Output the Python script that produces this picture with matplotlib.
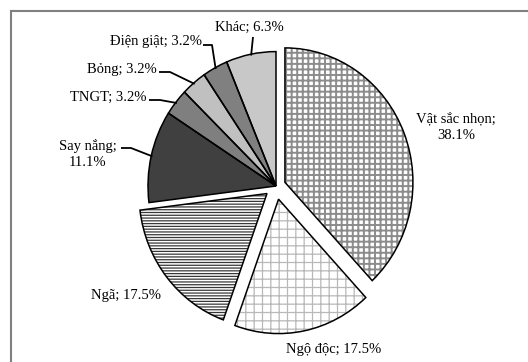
import numpy as np
import matplotlib
matplotlib.use("Agg")
import matplotlib.pyplot as plt
from matplotlib.lines import Line2D

# ---- data ----
categories = ["Vật sắc nhọn", "Ngộ độc", "Ngã", "Say nắng", "TNGT", "Bỏng", "Điện giật", "Khác"]
values = [38.1, 17.5, 17.5, 11.1, 3.2, 3.2, 3.2, 6.3]
labels = ["Vật sắc nhọn;\n38.1%", "Ngộ độc; 17.5%", "Ngã; 17.5%", "Say nắng;\n11.1%",
          "TNGT; 3.2%", "Bỏng; 3.2%", "Điện giật; 3.2%", "Khác; 6.3%"]

# ---- style ----
W, H = 528, 362
SY = 1.05  # slight vertical stretch of the original picture
font = ['Liberation Serif', 'DejaVu Serif']
fs = 10.5

face = ['white', 'white', 'white', '#404040', '#7f7f7f', '#c0c0c0', '#808080', '#c8c8c8']
hatch = ['+++', '++', '------', None, None, None, None, None]
hcol = ['#8c8c8c', '#b8b8b8', '#383838', '#404040', '#7f7f7f', '#c0c0c0', '#808080', '#c8c8c8']
hlw = [1.4, 0.9, 0.9, 1, 1, 1, 1, 1]
explode_frac = [0.075, 0.10, 0.09, 0, 0, 0, 0, 0]

fig = plt.figure(figsize=(W / 100, H / 100), dpi=100)
ax = fig.add_axes([0, 0, 1, 1])


def py(y):
    """pixel row (from top) -> data y"""
    return (H - y) / SY


cx, cy, R = 276, py(186), 128
explode = [f * R for f in explode_frac]

wedges, _ = ax.pie(values, startangle=90, counterclock=False, explode=explode,
                   center=(cx, cy), radius=R, colors=face,
                   wedgeprops=dict(linewidth=0))
for w, h, c, lw in zip(wedges, hatch, hcol, hlw):
    w.set_edgecolor(c)
    if h:
        w.set_hatch(h)
        try:
            w.set_hatch_linewidth(lw)
        except AttributeError:
            pass
outl, _ = ax.pie(values, startangle=90, counterclock=False, explode=explode,
                 center=(cx, cy), radius=R,
                 wedgeprops=dict(fill=False, edgecolor='black', linewidth=1.1))

ax.set_aspect('auto')
ax.set_xlim(0, W)
ax.set_ylim(0, H / SY)
ax.axis('off')

# label layout (pixel coords from top-left): x, y, ha, elbow points
layout = [
    (456, 127, 'center', None),
    (334, 350, 'center', None),
    (161, 295, 'right', None),
    (88, 154, 'center', [(121, 148), (131, 148)]),
    (147, 97, 'right', [(149, 100), (160, 100)]),
    (157, 69, 'right', [(159, 72), (170, 72)]),
    (202, 42, 'right', [(203, 45), (212, 45)]),
    (249, 27, 'center', [(253, 37)]),
]

for w, lab, (x, y, ha, elbow) in zip(wedges, labels, layout):
    ax.text(x, py(y), lab, ha=ha, va='center', fontsize=fs, family=font,
            linespacing=1.3, color='black')
    if elbow:
        mid = np.deg2rad((w.theta1 + w.theta2) / 2)
        ex = w.center[0] + w.r * 0.99 * np.cos(mid)
        ey = w.center[1] + w.r * 0.99 * np.sin(mid)
        xs = [p[0] for p in elbow] + [ex]
        ys = [py(p[1]) for p in elbow] + [ey]
        ax.plot(xs, ys, color='black', lw=1.3, solid_capstyle='butt')

# partial frame (top and left border)
fx, fy = 10.5 / W, 1 - 10.5 / H
fig.add_artist(Line2D([fx, 1.0], [fy, fy], transform=fig.transFigure, color='#808080', lw=1.5))
fig.add_artist(Line2D([fx, fx], [0, fy], transform=fig.transFigure, color='#808080', lw=1.5))

fig.savefig("out.png", dpi=100)
